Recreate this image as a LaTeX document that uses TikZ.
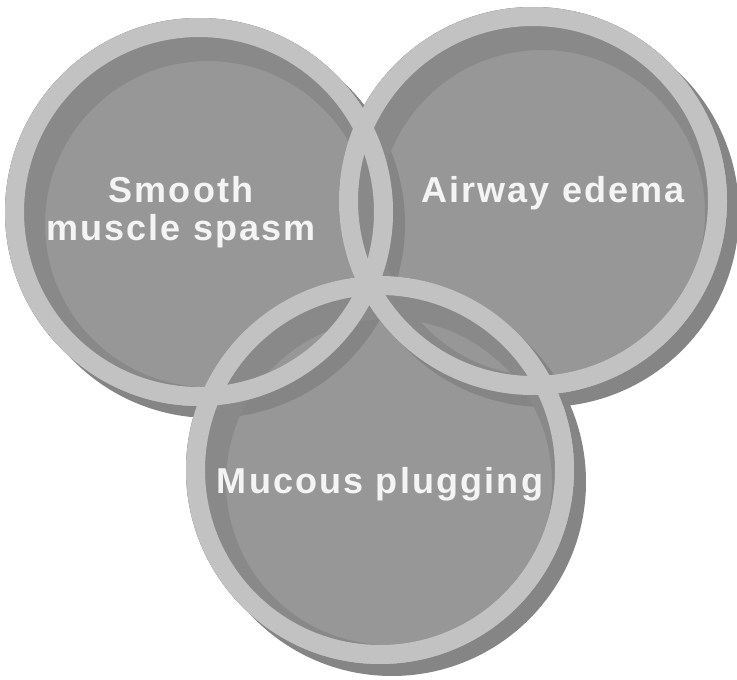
\documentclass[tikz,border=0pt]{standalone}
\usepackage{fontspec}
\newfontfamily\lblfont{Liberation Sans}[LetterSpace=6]
\definecolor{cfill}{HTML}{979797}
\definecolor{cring}{HTML}{C2C2C2}
\definecolor{cband}{HTML}{898989}
\definecolor{cshadow}{HTML}{858585}
\definecolor{ctext}{HTML}{F4F4F4}
\tikzset{
  lbl/.style={inner sep=0pt, anchor=base, text=ctext, font=\lblfont\bfseries\fontsize{36}{40}\selectfont}
}
\begin{document}
\begin{tikzpicture}[x=1pt,y=-1pt]
\useasboundingbox (0,0) rectangle (737,680);
\coordinate (cL) at (199,212);
\coordinate (cR) at (533,201);
\coordinate (cB) at (380,470);
% fills
\foreach \c in {cL,cR,cB}
  \fill[cfill] (\c) circle[radius=194pt];
% drop shadows
\foreach \c in {cL,cR,cB}
  \fill[cshadow, even odd rule] ([shift={(12,12)}]\c) circle[radius=194pt] (\c) circle[radius=194pt];
% inner dark bands
\foreach \c in {cL,cR,cB}
  \fill[cband, even odd rule] (\c) circle[radius=175pt] ([shift={(9,12)}]\c) circle[radius=163pt];
% light rings
\foreach \c in {cL,cR,cB}
  \draw[cring, line width=19pt] (\c) circle[radius=184.5pt];
% labels
\node[lbl] (t1) at (181,202) {Smooth};
\node[lbl] (t2) at (181,240) {muscle spasm};
\node[lbl] (t3) at (553,202) {Airway edema};
\node[lbl] (t4) at (380,493) {Mucous plugging};
\end{tikzpicture}
\end{document}
